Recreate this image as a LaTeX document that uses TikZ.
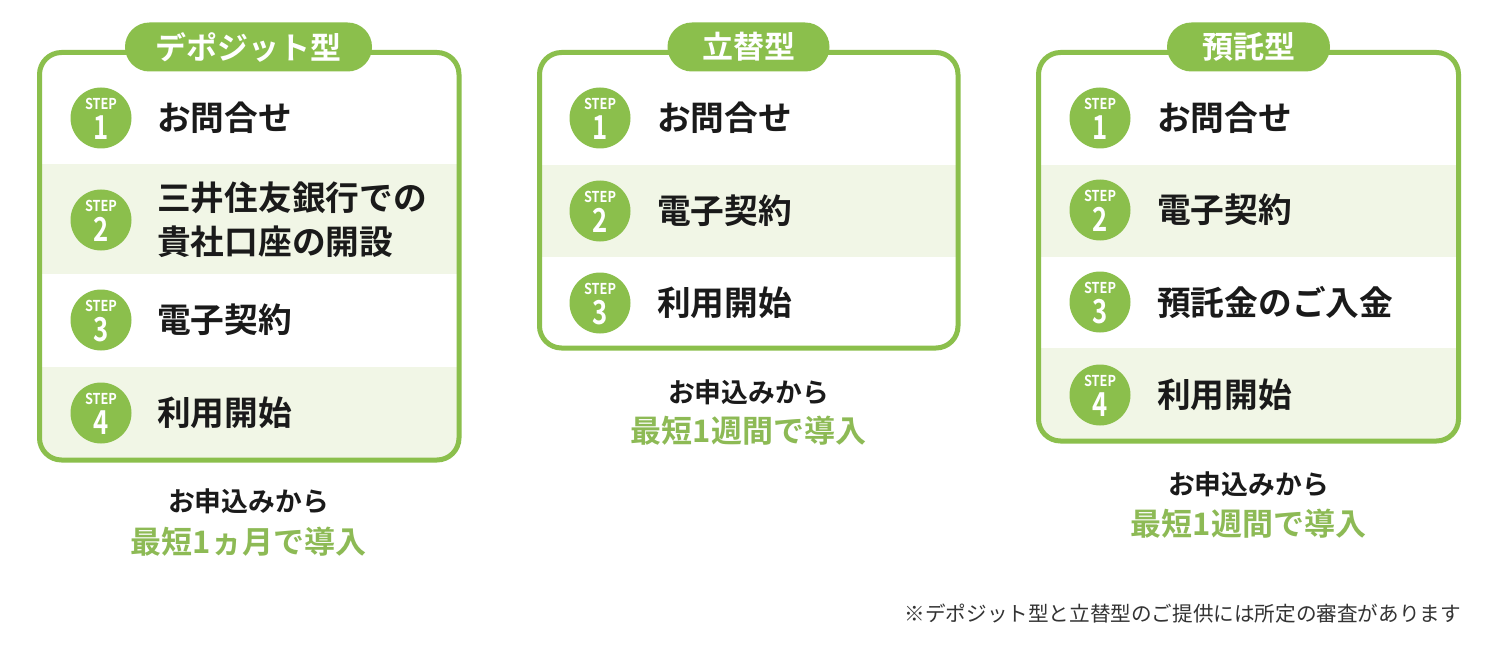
\documentclass[tikz,border=0pt]{standalone}
\usepackage{fontspec}
\setmainfont{Noto Sans CJK JP}[BoldFont={Noto Sans CJK JP Bold}]
\usepackage{graphicx}
\definecolor{G}{HTML}{8BBF4C}
\definecolor{GT}{HTML}{8DBA55}
\definecolor{RB}{HTML}{F1F6E6}
\definecolor{TX}{HTML}{1A1A1A}
\definecolor{FN}{HTML}{333333}
\tikzset{
  panelbox/.style={draw=G, line width=5pt, rounded corners=22pt},
  pill/.style={fill=G, rounded corners=24.4pt, minimum height=49pt, inner sep=0pt, text=white, font=\bfseries\fontsize{31}{31}\selectfont},
  stepc/.style={circle, fill=G, minimum size=61pt, inner sep=0pt},
  steptop/.style={inner sep=0pt, text=white, font=\bfseries\fontsize{15}{15}\selectfont},
  stepnum/.style={inner sep=0pt, text=white, font=\bfseries\fontsize{33}{33}\selectfont},
  rowtxt/.style={anchor=west, inner sep=0pt, align=left, text=TX, font=\bfseries\fontsize{33.7}{44}\selectfont},
  subtxt/.style={inner sep=0pt, text=TX, font=\bfseries\fontsize{26.8}{26.8}\selectfont},
  leadtxt/.style={inner sep=0pt, text=GT, font=\bfseries\fontsize{31}{31}\selectfont},
  notetxt/.style={inner sep=0pt, anchor=east, text=FN, font=\fontsize{20.6}{20.6}\selectfont},
}
\newcommand{\stepcirc}[4]{%
  \node[stepc] (#1) at (#2,#3) {};
  \node[steptop] (#1s) at ([yshift=14.5pt]#1.center) {\scalebox{0.85}[1]{STEP}};
  \node[stepnum] (#1n) at ([yshift=-9.5pt]#1.center) {\scalebox{0.78}[1]{#4}};
}
\begin{document}
\begin{tikzpicture}[x=1pt,y=-1pt]
\useasboundingbox (0,0) rectangle (1500,658);
\fill[white] (0,0) rectangle (1500,658);

% ---------- Panel 1 ----------
\begin{scope}
  \clip[rounded corners=20pt] (39.5,52.5) rectangle (459,460);
  \fill[RB] (37,164) rectangle (462,274);
  \fill[RB] (37,367) rectangle (462,462);
\end{scope}
\draw[panelbox] (39.5,52.5) rectangle (459,460);
\node[pill, minimum width=247pt] (p1title) at (248.5,47) {デポジット型};
\stepcirc{p1c1}{101}{118}{1}
\node[rowtxt] (p1t1) at (157,118) {お問合せ};
\stepcirc{p1c2}{101}{220}{2}
\node[rowtxt] (p1t2) at (157,220) {三井住友銀行での\\貴社口座の開設};
\stepcirc{p1c3}{101}{320}{3}
\node[rowtxt] (p1t3) at (157,320) {電子契約};
\stepcirc{p1c4}{101}{413}{4}
\node[rowtxt] (p1t4) at (157,413) {利用開始};
\node[subtxt] (p1sub) at (248.5,501) {お申込みから};
\node[leadtxt] (p1lead) at (248.5,542) {最短1ヵ月で導入};

% ---------- Panel 2 ----------
\begin{scope}
  \clip[rounded corners=20pt] (539.5,52.5) rectangle (958,348);
  \fill[RB] (537,165) rectangle (961,257);
\end{scope}
\draw[panelbox] (539.5,52.5) rectangle (958,348);
\node[pill, minimum width=162pt] (p2title) at (748.5,47) {立替型};
\stepcirc{p2c1}{600}{118}{1}
\node[rowtxt] (p2t1) at (657,118) {お問合せ};
\stepcirc{p2c2}{600}{211}{2}
\node[rowtxt] (p2t2) at (657,211) {電子契約};
\stepcirc{p2c3}{600}{303}{3}
\node[rowtxt] (p2t3) at (657,303) {利用開始};
\node[subtxt] (p2sub) at (748.5,392) {お申込みから};
\node[leadtxt] (p2lead) at (748.5,431) {最短1週間で導入};

% ---------- Panel 3 ----------
\begin{scope}
  \clip[rounded corners=20pt] (1038.5,52.5) rectangle (1458.5,441);
  \fill[RB] (1036,165) rectangle (1461,257);
  \fill[RB] (1036,348) rectangle (1461,443);
\end{scope}
\draw[panelbox] (1038.5,52.5) rectangle (1458.5,441);
\node[pill, minimum width=163pt] (p3title) at (1248.5,47) {預託型};
\stepcirc{p3c1}{1100}{118}{1}
\node[rowtxt] (p3t1) at (1157,118) {お問合せ};
\stepcirc{p3c2}{1100}{210}{2}
\node[rowtxt] (p3t2) at (1157,210) {電子契約};
\stepcirc{p3c3}{1100}{302}{3}
\node[rowtxt] (p3t3) at (1157,302) {預託金のご入金};
\stepcirc{p3c4}{1100}{395}{4}
\node[rowtxt] (p3t4) at (1157,395) {利用開始};
\node[subtxt] (p3sub) at (1248.5,484) {お申込みから};
\node[leadtxt] (p3lead) at (1248.5,524) {最短1週間で導入};

% ---------- Footnote ----------
\node[notetxt] (note) at (1461,614) {※デポジット型と立替型のご提供には所定の審査があります};
\end{tikzpicture}
\end{document}
